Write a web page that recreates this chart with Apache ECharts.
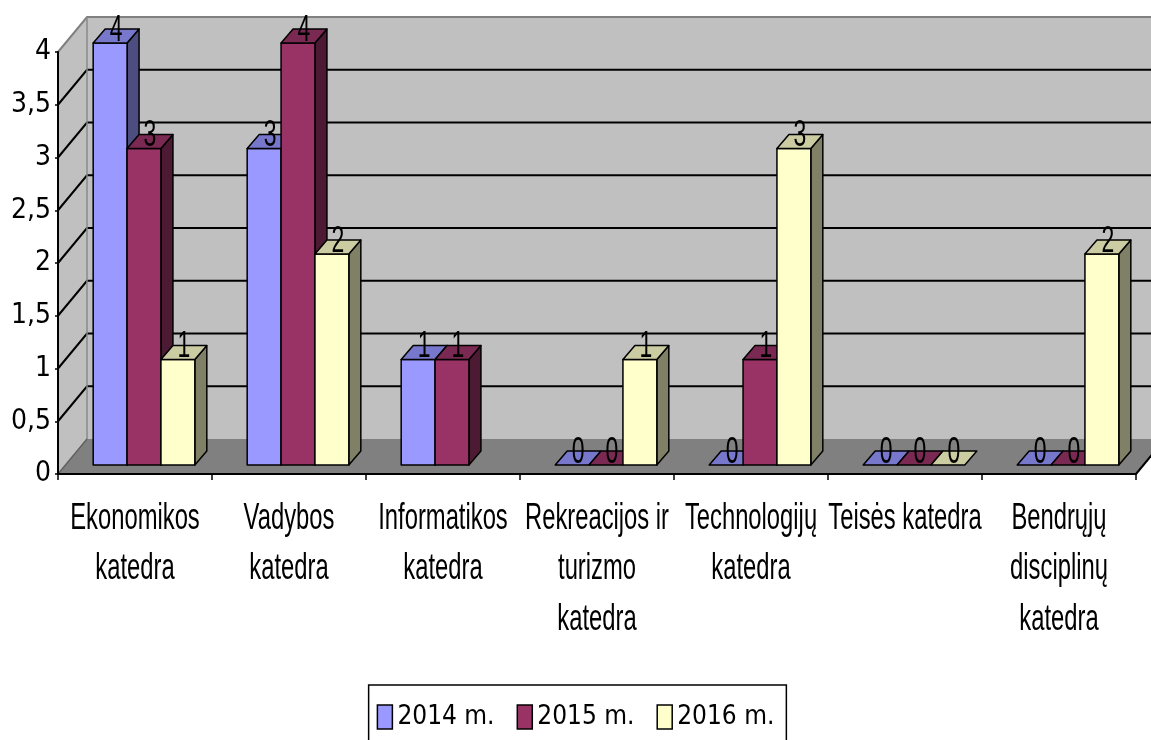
<!DOCTYPE html>
<html><head><meta charset="utf-8">
<script src="https://cdn.jsdelivr.net/npm/echarts@6/dist/echarts.min.js"></script>
<style>html,body{margin:0;padding:0;background:#fff}#c{width:1151px;height:740px}</style>
</head><body><div id="c"></div>
<script>
// ---- data ----
const categories = ['Ekonomikos\nkatedra', 'Vadybos\nkatedra', 'Informatikos\nkatedra', 'Rekreacijos ir\nturizmo\nkatedra', 'Technologijų\nkatedra', 'Teisės katedra', 'Bendrųjų\ndisciplinų\nkatedra'];
const seriesNames = ['2014 m.', '2015 m.', '2016 m.'];
const values2014 = [4, 3, 1, 0, 0, 0, 0];
const values2015 = [3, 4, 1, 0, 1, 0, 0];
const values2016 = [1, 2, null, 1, 3, 0, 2];
const yMin = 0, yMax = 4, yInterval = 0.5;

// ---- style ----
const FONT = "'Liberation Sans',Arial,sans-serif";
const FONT_COND = "'DejaVu Sans Condensed','Liberation Sans',sans-serif";
const TEXT_SX = 0.82, TEXT_SY = 1.3;
const DEPTH = [29, -35];
const BAR_SHIFT = [9, -9];
const BAR_DEPTH = [12, -14];
const BAR_W = 0.22;
const palette = [
  {front: '#9999FF', top: '#7777CC', side: '#4D4D80'},
  {front: '#993366', top: '#7A2952', side: '#4D1A33'},
  {front: '#FFFFCC', top: '#CCCCA3', side: '#808066'}
];
const allValues = [values2014, values2015, values2016];

const chart = echarts.init(document.getElementById('c'), null, {renderer: 'canvas'});

function wallsRender(params, api) {
  const cs = params.coordSys;
  const x0 = cs.x, x1 = cs.x + cs.width, yt = cs.y, yb = cs.y + cs.height;
  const dx = DEPTH[0], dy = DEPTH[1];
  const ch = [];
  ch.push({type: 'polygon', shape: {points: [[x0, yt], [x0 + dx, yt + dy], [x0 + dx, yb + dy], [x0, yb]]}, style: {fill: '#C0C0C0'}});
  ch.push({type: 'rect', shape: {x: x0 + dx, y: yt + dy, width: x1 - x0, height: yb - yt}, style: {fill: '#C0C0C0'}});
  ch.push({type: 'polygon', shape: {points: [[x0, yb], [x1, yb], [x1 + dx, yb + dy], [x0 + dx, yb + dy]]}, style: {fill: '#808080'}});
  for (let v = yMin + yInterval; v < yMax - 1e-9; v += yInterval) {
    const y = api.coord([0, v])[1];
    ch.push({type: 'polyline', shape: {points: [[x0, y], [x0 + dx, y + dy], [x1 + dx, y + dy]]}, style: {stroke: '#000', lineWidth: 2, fill: null}});
  }
  ch.push({type: 'polyline', shape: {points: [[x0, yt], [x0 + dx, yt + dy], [x1 + dx, yt + dy]]}, style: {stroke: '#808080', lineWidth: 2, fill: null}});
  ch.push({type: 'line', shape: {x1: x0 + dx, y1: yt + dy, x2: x0 + dx, y2: yb + dy}, style: {stroke: '#8a8a8a', lineWidth: 1.5}});
  ch.push({type: 'line', shape: {x1: x0, y1: yb, x2: x0 + dx, y2: yb + dy}, style: {stroke: '#606060', lineWidth: 1.5}});
  ch.push({type: 'line', shape: {x1: x1, y1: yb, x2: x1 + dx, y2: yb + dy}, style: {stroke: '#000', lineWidth: 2}});
  return {type: 'group', children: ch};
}

function barRender(k) {
  return function (params, api) {
    const i = api.value(0), v = api.value(1);
    if (v == null || isNaN(v)) return;
    const c0 = api.coord([i, 0]), c1 = api.coord([i, v]);
    const band = api.size([1, 0])[0];
    const bw = band * BAR_W;
    const x = c0[0] - 1.5 * bw + BAR_SHIFT[0] + k * bw;
    const yb = c0[1] + BAR_SHIFT[1], yt = c1[1] + BAR_SHIFT[1];
    const dx = BAR_DEPTH[0], dy = BAR_DEPTH[1];
    const col = palette[k];
    const st = {stroke: '#000', lineWidth: 1.5, lineJoin: 'round'};
    const ch = [];
    if (v > 0) {
      ch.push({type: 'polygon', shape: {points: [[x + bw, yt], [x + bw + dx, yt + dy], [x + bw + dx, yb + dy], [x + bw, yb]]}, style: Object.assign({fill: col.side}, st)});
      ch.push({type: 'rect', shape: {x: x, y: yt, width: bw, height: yb - yt}, style: Object.assign({fill: col.front}, st)});
    }
    ch.push({type: 'polygon', shape: {points: [[x, yt], [x + bw, yt], [x + bw + dx, yt + dy], [x + dx, yt + dy]]}, style: Object.assign({fill: col.top}, st)});
    ch.push({type: 'text', x: x + bw / 2 + dx / 2, y: yt + 6, scaleX: TEXT_SX, scaleY: TEXT_SY,
      style: {text: String(v), fontFamily: FONT, fontSize: 28, fill: '#000', align: 'center', verticalAlign: 'bottom'}});
    return {type: 'group', children: ch};
  };
}

function catLabelRender(params, api) {
  const i = api.value(0);
  const cs = params.coordSys;
  const c = api.coord([i, 0]);
  return {type: 'text', x: c[0], y: cs.y + cs.height + 19, scaleX: TEXT_SX, scaleY: TEXT_SY,
    style: {text: categories[i], fontFamily: FONT, fontSize: 29, lineHeight: 39, fill: '#000', align: 'center', verticalAlign: 'top'}};
}

const series = [
  {type: 'custom', name: 'walls', data: [[0, 0]], renderItem: wallsRender, silent: true, z: 1, clip: false},
  {type: 'custom', name: 'labels', data: categories.map((c, i) => [i, 0]), renderItem: catLabelRender, silent: true, z: 1, clip: false}
];
allValues.forEach((vals, k) => {
  series.push({
    type: 'custom', name: seriesNames[k], z: 3 + k, clip: false,
    itemStyle: {color: palette[k].front, borderColor: '#000', borderWidth: 1},
    data: vals.map((v, i) => [i, v == null ? '-' : v]),
    renderItem: barRender(k)
  });
});

chart.setOption({
  animation: false,
  backgroundColor: '#fff',
  grid: {left: 58, right: 15, top: 52, bottom: 266, containLabel: false, outerBoundsMode: 'none'},
  xAxis: {
    type: 'category', data: categories, z: 10,
    axisLine: {show: true, lineStyle: {color: '#000', width: 2}},
    axisTick: {show: true, length: 6, lineStyle: {color: '#000', width: 1.5}},
    axisLabel: {show: false},
    splitLine: {show: false}
  },
  yAxis: {
    type: 'value', min: yMin, max: yMax, interval: yInterval, z: 10,
    axisLine: {show: true, lineStyle: {color: '#000', width: 2}},
    axisTick: {show: true, length: 3, lineStyle: {color: '#000', width: 1.5}},
    axisLabel: {fontFamily: FONT_COND, fontSize: 28, color: '#000', margin: 7, formatter: v => String(v).replace('.', ',')},
    splitLine: {show: false}
  },
  legend: {
    data: seriesNames, left: 'center', top: 685, orient: 'horizontal',
    icon: 'rect', itemWidth: 15, itemHeight: 24, itemGap: 22,
    borderColor: '#000', borderWidth: 1.5, padding: [19, 12, 22, 8],
    itemStyle: {borderColor: '#000', borderWidth: 1.5},
    textStyle: {fontFamily: FONT_COND, fontSize: 26, color: '#000'}
  },
  series: series
});
</script></body></html>
